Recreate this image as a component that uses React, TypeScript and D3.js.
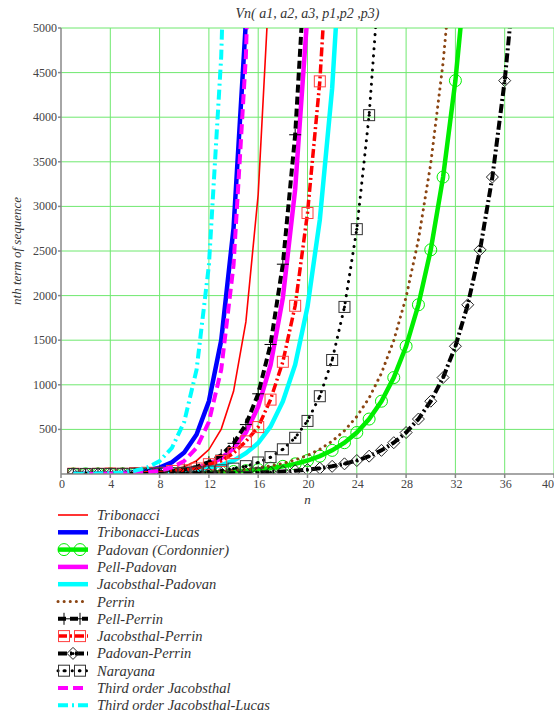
import React from "react";
import * as d3 from "d3";

// sequence values, plotted from n = 1
const tribonacci = [0, 1, 1, 2, 4, 7, 13, 24, 44, 81, 149, 274, 504, 927, 1705, 3136, 5768];
const tribonacciLucas = [3, 1, 3, 7, 11, 21, 39, 71, 131, 241, 443, 815, 1499, 2757, 5071];
const padovan = [1, 1, 1, 2, 2, 3, 4, 5, 7, 9, 12, 16, 21, 28, 37, 49, 65, 86, 114, 151, 200, 265, 351, 465, 616, 816, 1081, 1432, 1897, 2513, 3329, 4410, 5842];
const pellPadovan = [1, 1, 1, 3, 3, 7, 9, 17, 25, 43, 67, 111, 177, 289, 465, 755, 1219, 1975, 3193, 5169];
const jacobsthalPadovan = [1, 1, 1, 3, 3, 5, 9, 11, 19, 29, 41, 67, 99, 149, 233, 347, 531, 813, 1225, 1875, 2851, 4325, 6601];
const perrin = [3, 0, 2, 3, 2, 5, 5, 7, 10, 12, 17, 22, 29, 39, 51, 68, 90, 119, 158, 209, 277, 367, 486, 644, 853, 1130, 1497, 1983, 2627, 3480, 4610, 6107];
const pellPerrin = [3, 0, 2, 3, 4, 8, 11, 20, 30, 51, 80, 132, 211, 344, 554, 899, 1452, 2352, 3803, 6156];
const jacobsthalPerrin = [3, 0, 2, 6, 2, 10, 14, 14, 34, 42, 62, 110, 146, 234, 366, 526, 834, 1258, 1886, 2926, 4402, 6698];
const padovanPerrin = [0, 0, 1, 0, 1, 1, 1, 2, 2, 3, 4, 5, 7, 9, 12, 16, 21, 28, 37, 49, 65, 86, 114, 151, 200, 265, 351, 465, 616, 816, 1081, 1432, 1897, 2513, 3329, 4410, 5842];
const narayana = [0, 1, 1, 1, 2, 3, 4, 6, 9, 13, 19, 28, 41, 60, 88, 129, 189, 277, 406, 595, 872, 1278, 1873, 2745, 4023, 5896];
const jacobsthal3 = [0, 1, 1, 2, 5, 9, 18, 37, 73, 146, 293, 585, 1170, 2341, 4681, 9362];
const jacobsthalLucas3 = [2, 1, 5, 10, 17, 37, 74, 145, 293, 586, 1169, 2341, 4682, 9361];

const xTicks = [0, 4, 8, 12, 16, 20, 24, 28, 32, 36, 40];
const yTicks = [500, 1000, 1500, 2000, 2500, 3000, 3500, 4000, 4500, 5000];

const series = [
  { name: "Tribonacci", values: tribonacci, color: "#ff0000", width: 1.6, dash: null, marker: null },
  { name: "Tribonacci-Lucas", values: tribonacciLucas, color: "#0000ff", width: 4.5, dash: null, marker: null },
  { name: "Padovan (Cordonnier)", values: padovan, color: "#00ee00", width: 4.5, dash: null, marker: "circle" },
  { name: "Pell-Padovan", values: pellPadovan, color: "#ff00ff", width: 4.5, dash: null, marker: null },
  { name: "Jacobsthal-Padovan", values: jacobsthalPadovan, color: "#00ffff", width: 4.5, dash: null, marker: null },
  { name: "Perrin", values: perrin, color: "#8b4513", width: 3, dash: "0.1 6", marker: null },
  { name: "Pell-Perrin", values: pellPerrin, color: "#000000", width: 4, dash: "8 4", marker: "plus" },
  { name: "Jacobsthal-Perrin", values: jacobsthalPerrin, color: "#ff0000", width: 3.5, dash: "9 3 2 3", marker: "square" },
  { name: "Padovan-Perrin", values: padovanPerrin, color: "#000000", width: 4, dash: "9 3 2 3", marker: "diamond" },
  { name: "Narayana", values: narayana, color: "#000000", width: 3, dash: "0.1 7", marker: "box" },
  { name: "Third order Jacobsthal", values: jacobsthal3, color: "#ff00ff", width: 4, dash: "10 5", marker: null },
  { name: "Third order Jacobsthal-Lucas", values: jacobsthalLucas3, color: "#00ffff", width: 4, dash: "10 4 2 4", marker: null },
];

function Marker({ type, cx, cy }) {
  if (type === "circle")
    return <circle cx={cx} cy={cy} r={6} fill="none" stroke="#00ee00" strokeWidth={1} />;
  if (type === "plus")
    return (
      <g stroke="#000" strokeWidth={1}>
        <line x1={cx - 6} x2={cx + 6} y1={cy} y2={cy} />
        <line x1={cx} x2={cx} y1={cy - 6} y2={cy + 6} />
      </g>
    );
  if (type === "square")
    return <rect x={cx - 5.5} y={cy - 5.5} width={11} height={11} fill="none" stroke="#ff4040" strokeWidth={1} />;
  if (type === "diamond")
    return (
      <g>
        <path d={`M${cx},${cy - 6}L${cx + 6},${cy}L${cx},${cy + 6}L${cx - 6},${cy}Z`} fill="none" stroke="#222" strokeWidth={1} />
        <circle cx={cx} cy={cy} r={1.5} fill="#000" />
      </g>
    );
  if (type === "box")
    return (
      <g>
        <rect x={cx - 5.5} y={cy - 5.5} width={11} height={11} fill="none" stroke="#333" strokeWidth={1} />
        <circle cx={cx} cy={cy} r={1.5} fill="#000" />
      </g>
    );
  return null;
}

export default function App() {
  const W = 554, H = 716;
  const x = d3.scaleLinear().domain([0, 40]).range([61, 554]);
  const y = d3.scaleLinear().domain([0, 5000]).range([474, 28]);
  const [x0, x1] = x.range();
  const [y0, y1] = y.range();

  const line = d3.line<number>().x((d, i) => x(i + 1)).y((d) => y(d));

  const font = "'Liberation Serif', 'Times New Roman', serif";
  const legendTop = 515, legendStep = 17.3;
  const dotCap = (s) => (s.dash && s.dash.startsWith("0.1") ? "round" : "butt");

  return (
    <svg width={W} height={H} style={{ position: "absolute", left: 0, top: 0, background: "#fff", fontFamily: font }}>
      <defs>
        <clipPath id="plotClip">
          <rect x={x0} y={y1} width={x1 - x0} height={y0 - y1} />
        </clipPath>
      </defs>

      {/* grid */}
      <g stroke="#6fe86f" strokeWidth={1}>
        {xTicks.filter((t) => t > 0).map((t) => (
          <line key={"gx" + t} x1={x(t)} x2={x(t)} y1={y1} y2={y0} />
        ))}
        {yTicks.map((t) => (
          <line key={"gy" + t} x1={x0} x2={x1} y1={y(t)} y2={y(t)} />
        ))}
      </g>

      {/* series */}
      <g clipPath="url(#plotClip)">
        {series.map((s) => (
          <g key={s.name}>
            <path d={line(s.values) || ""} fill="none" stroke={s.color} strokeWidth={s.width}
              strokeDasharray={s.dash || undefined} strokeLinecap={dotCap(s)} />
            {s.marker && s.values.map((v, i) => <Marker key={i} type={s.marker} cx={x(i + 1)} cy={y(v)} />)}
          </g>
        ))}
      </g>

      {/* axes */}
      <g stroke="#888" strokeWidth={1.5}>
        <line x1={x0} x2={x0} y1={y1} y2={y0} />
        <line x1={x0} x2={x1} y1={y0} y2={y0} />
        {yTicks.map((t) => <line key={"ty" + t} x1={x0 - 3} x2={x0} y1={y(t)} y2={y(t)} />)}
        {xTicks.map((t) => <line key={"tx" + t} x1={x(t)} x2={x(t)} y1={y0} y2={y0 + 4} />)}
      </g>
      <g fontSize={12} fill="#444">
        {yTicks.map((t) => (
          <text key={"ly" + t} x={x0 - 4} y={y(t) + 4} textAnchor="end">{t}</text>
        ))}
        {xTicks.map((t, i) => (
          <text key={"lx" + t} x={i === xTicks.length - 1 ? W : x(t) + 1} y={y0 + 14}
            textAnchor={i === xTicks.length - 1 ? "end" : "middle"}>{t}</text>
        ))}
      </g>

      <text x={(x0 + x1) / 2} y={18} textAnchor="middle" fontStyle="italic" fontSize={14} fill="#333">
        Vn( a1, a2, a3, p1,p2 ,p3)
      </text>
      <text x={(x0 + x1) / 2} y={504} textAnchor="middle" fontStyle="italic" fontSize={13} fill="#333">n</text>
      <text transform={`translate(21,${(y0 + y1) / 2}) rotate(-90)`} textAnchor="middle" fontStyle="italic" fontSize={13} fill="#333">
        nth term of sequence
      </text>

      {/* legend */}
      {series.map((s, i) => {
        const ly = legendTop + i * legendStep;
        const marks = s.marker === "diamond" ? [73] : [64, 80];
        return (
          <g key={"leg" + s.name}>
            <line x1={58} x2={88} y1={ly} y2={ly} stroke={s.color} strokeWidth={s.width}
              strokeDasharray={s.dash || undefined} strokeLinecap={dotCap(s)} />
            {s.marker && marks.map((mx) => <Marker key={mx} type={s.marker} cx={mx} cy={ly} />)}
            <text x={97} y={ly + 5} fontStyle="italic" fontSize={14.5} fill="#333">{s.name}</text>
          </g>
        );
      })}
    </svg>
  );
}
